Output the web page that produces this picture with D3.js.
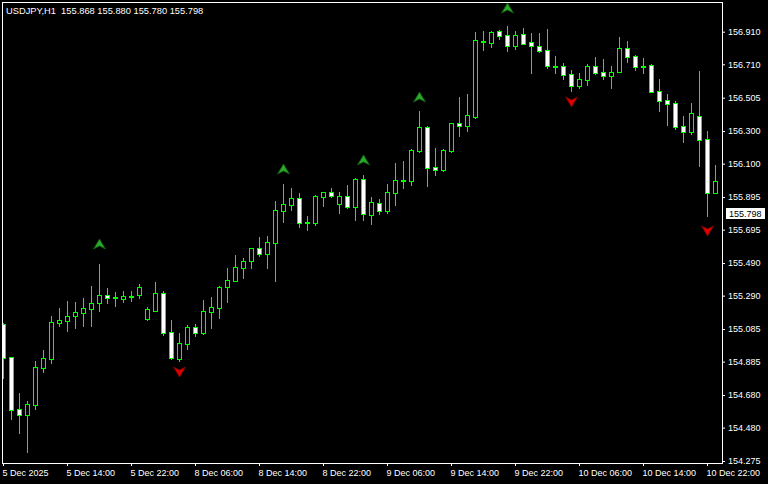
<!DOCTYPE html>
<html>
<head>
<meta charset="utf-8">
<script src="https://cdn.jsdelivr.net/npm/d3@7"></script>
<style>
  body { margin: 0; background: #000; }
  svg { display: block; }
  text { font-family: "Liberation Sans", Arial, sans-serif; }
</style>
</head>
<body>
<svg id="chart" width="768" height="484"></svg>
<script>
const chartTitle = "USDJPY,H1  155.868 155.880 155.780 155.798";
const lastPrice = 155.798;

// H1 bars, oldest first (5 Dec 06:00 .. 10 Dec 23:00)
const opens = [
  155.116, 154.914, 154.594, 154.558, 154.619, 154.846, 154.901, 155.122, 155.134, 155.165,
  155.184, 155.208, 155.245, 155.294, 155.276, 155.269, 155.287, 155.294, 155.147, 155.196,
  155.306, 155.067, 154.901, 154.993, 155.098, 155.061, 155.190, 155.214, 155.343, 155.380,
  155.460, 155.503, 155.583, 155.546, 155.613, 155.810, 155.846, 155.889, 155.742, 155.736,
  155.896, 155.926, 155.853, 155.902, 155.834, 156.006, 155.785, 155.859, 155.810, 155.920,
  155.999, 155.994, 156.178, 156.325, 156.080, 156.061, 156.178, 156.350, 156.331, 156.386,
  156.852, 156.841, 156.914, 156.890, 156.822, 156.896, 156.847, 156.822, 156.798, 156.700,
  156.700, 156.650, 156.577, 156.614, 156.700, 156.663, 156.638, 156.663, 156.810, 156.761,
  156.700, 156.706, 156.546, 156.491, 156.472, 156.331, 156.294, 156.393, 156.251, 155.920
];
const highs = [
  155.122, 154.914, 154.693, 154.643, 154.889, 154.956, 155.165, 155.214, 155.257, 155.251,
  155.276, 155.349, 155.484, 155.337, 155.312, 155.319, 155.319, 155.362, 155.220, 155.374,
  155.319, 155.141, 155.061, 155.110, 155.116, 155.263, 155.282, 155.349, 155.460, 155.540,
  155.521, 155.583, 155.650, 155.656, 155.871, 155.975, 155.951, 155.920, 155.779, 155.908,
  155.926, 155.951, 155.926, 155.969, 156.012, 156.030, 155.896, 155.883, 155.975, 156.104,
  156.116, 156.190, 156.423, 156.331, 156.196, 156.190, 156.350, 156.509, 156.528, 156.908,
  156.914, 156.914, 156.920, 156.945, 156.914, 156.933, 156.902, 156.902, 156.927, 156.761,
  156.718, 156.675, 156.657, 156.712, 156.755, 156.742, 156.700, 156.878, 156.853, 156.767,
  156.749, 156.712, 156.620, 156.528, 156.485, 156.393, 156.472, 156.669, 156.301, 156.092
];
const lows = [
  154.785, 154.533, 154.447, 154.330, 154.594, 154.821, 154.877, 155.104, 155.073, 155.092,
  155.104, 155.104, 155.196, 155.245, 155.226, 155.251, 155.257, 155.276, 155.141, 155.196,
  155.049, 154.901, 154.889, 154.963, 155.042, 155.055, 155.092, 155.153, 155.251, 155.380,
  155.398, 155.460, 155.533, 155.460, 155.380, 155.742, 155.816, 155.711, 155.693, 155.724,
  155.840, 155.896, 155.797, 155.828, 155.754, 155.754, 155.730, 155.791, 155.797, 155.846,
  155.951, 155.969, 156.172, 155.963, 156.030, 156.055, 156.172, 156.270, 156.301, 156.380,
  156.798, 156.816, 156.865, 156.792, 156.804, 156.835, 156.657, 156.785, 156.687, 156.657,
  156.620, 156.546, 156.565, 156.583, 156.650, 156.620, 156.565, 156.663, 156.724, 156.675,
  156.657, 156.540, 156.423, 156.337, 156.313, 156.233, 156.282, 156.086, 155.779, 155.920
];
const closes = [
  154.907, 154.588, 154.558, 154.625, 154.852, 154.907, 155.128, 155.141, 155.165, 155.190,
  155.214, 155.245, 155.294, 155.276, 155.282, 155.288, 155.289, 155.343, 155.208, 155.306,
  155.061, 154.907, 154.999, 155.098, 155.061, 155.196, 155.220, 155.343, 155.386, 155.466,
  155.503, 155.583, 155.546, 155.619, 155.816, 155.853, 155.889, 155.736, 155.743, 155.902,
  155.926, 155.902, 155.902, 155.834, 156.006, 155.791, 155.865, 155.810, 155.926, 156.000,
  156.000, 156.184, 156.325, 156.073, 156.061, 156.184, 156.350, 156.331, 156.399, 156.859,
  156.853, 156.908, 156.884, 156.822, 156.890, 156.835, 156.822, 156.792, 156.700, 156.701,
  156.644, 156.577, 156.620, 156.700, 156.657, 156.638, 156.663, 156.810, 156.755, 156.693,
  156.701, 156.540, 156.485, 156.466, 156.325, 156.294, 156.411, 156.245, 155.920, 155.994
];

// arrow signals: bar index + price where the arrow sits
const upArrowBars = [12, 35, 45, 52, 63];
const upArrowPrices = [155.607, 156.067, 156.123, 156.509, 157.055];
const downArrowBars = [3, 22, 71, 88];
const downArrowPrices = [154.232, 154.821, 156.479, 155.687];

const priceTicks = [156.910, 156.710, 156.505, 156.300, 156.100, 155.895, 155.695,
  155.490, 155.290, 155.085, 154.885, 154.680, 154.480, 154.275];
const timeTickBars = [0, 8, 16, 24, 32, 40, 48, 56, 64, 72, 80, 88];
const timeTickLabels = ["5 Dec 2025", "5 Dec 14:00", "5 Dec 22:00", "8 Dec 06:00",
  "8 Dec 14:00", "8 Dec 22:00", "9 Dec 06:00", "9 Dec 14:00", "9 Dec 22:00",
  "10 Dec 06:00", "10 Dec 14:00", "10 Dec 22:00"];

const GREEN = "#00ff00";

const svg = d3.select("#chart");
svg.append("rect").attr("width", 768).attr("height", 484).attr("fill", "#000");

const x = d3.scaleLinear().domain([0, opens.length - 1]).range([3, 3 + 8 * (opens.length - 1)]);
const y = d3.scaleLinear().domain([154.275, 156.910]).range([461, 31.7]);

svg.append("clipPath").attr("id", "plot")
  .append("rect").attr("x", 2).attr("y", 2).attr("width", 720).attr("height", 461);

const plot = svg.append("g").attr("clip-path", "url(#plot)");

const bars = d3.range(opens.length).map(i => ({
  i: i, o: opens[i], h: highs[i], l: lows[i], c: closes[i]
}));

// wicks
plot.selectAll(".wick").data(bars).join("line")
  .attr("class", "wick")
  .attr("x1", d => x(d.i) + 0.5).attr("x2", d => x(d.i) + 0.5)
  .attr("y1", d => Math.round(y(d.h)))
  .attr("y2", d => Math.round(y(d.l)) + 1)
  .attr("stroke", GREEN).attr("stroke-width", 1);

// bodies: black = up bar, white = down bar
plot.selectAll(".body").data(bars).join("rect")
  .attr("class", "body")
  .attr("x", d => x(d.i) - 1.5)
  .attr("y", d => Math.round(y(Math.max(d.o, d.c))) + 0.5)
  .attr("width", 4)
  .attr("height", d => Math.max(Math.round(y(Math.min(d.o, d.c))) - Math.round(y(Math.max(d.o, d.c))), 1))
  .attr("fill", d => d.c > d.o ? "#000" : "#fff")
  .attr("stroke", GREEN).attr("stroke-width", 1);

// arrows
const upArrows = upArrowBars.map((b, k) => ({ i: b, p: upArrowPrices[k] }));
const downArrows = downArrowBars.map((b, k) => ({ i: b, p: downArrowPrices[k] }));

plot.selectAll(".up").data(upArrows).join("path")
  .attr("class", "up")
  .attr("transform", d => "translate(" + (x(d.i) + 0.5) + "," + y(d.p) + ")")
  .attr("d", "M0,-5L6,5L0,2L-6,5Z")
  .attr("fill", "#2fa82f").attr("stroke", "#0d5a0d").attr("stroke-width", 1);

plot.selectAll(".down").data(downArrows).join("path")
  .attr("class", "down")
  .attr("transform", d => "translate(" + (x(d.i) + 0.5) + "," + y(d.p) + ")")
  .attr("d", "M0,5L6,-5L0,-2L-6,-5Z")
  .attr("fill", "#e00000").attr("stroke", "#7a0000").attr("stroke-width", 1);

// frame
svg.append("rect")
  .attr("x", 2.5).attr("y", 2.5).attr("width", 720).attr("height", 461)
  .attr("fill", "none").attr("stroke", "#fff");

// price axis
const yAxis = svg.append("g")
  .attr("transform", "translate(722,0)")
  .call(d3.axisRight(y).tickValues(priceTicks).tickSize(3).tickPadding(3)
    .tickFormat(d3.format(".3f")));
yAxis.select(".domain").remove();
yAxis.selectAll("line").attr("stroke", "#fff");
yAxis.selectAll("text").attr("fill", "#fff").attr("font-size", 9)
  .attr("font-family", "Liberation Sans, Arial, sans-serif");

// time axis
const xAxis = svg.append("g")
  .attr("transform", "translate(0,463)")
  .call(d3.axisBottom(x).tickValues(timeTickBars).tickSize(3).tickPadding(4)
    .tickFormat((d, k) => timeTickLabels[k]));
xAxis.select(".domain").remove();
xAxis.selectAll("line").attr("stroke", "#fff");
xAxis.selectAll("text").attr("fill", "#fff").attr("font-size", 9)
  .attr("text-anchor", "start").attr("x", -1)
  .attr("font-family", "Liberation Sans, Arial, sans-serif");

// current price label
const lastY = Math.round(y(lastPrice));
svg.append("rect")
  .attr("x", 726).attr("y", lastY - 5).attr("width", 39).attr("height", 11)
  .attr("fill", "#fff");
svg.append("text")
  .attr("x", 729).attr("y", lastY + 4)
  .attr("font-size", 9).attr("fill", "#000")
  .text(d3.format(".3f")(lastPrice));

// title
svg.append("text")
  .attr("x", 6).attr("y", 14)
  .attr("font-size", 9.3).attr("fill", "#fff")
  .style("white-space", "pre")
  .text(chartTitle);
</script>
</body>
</html>
